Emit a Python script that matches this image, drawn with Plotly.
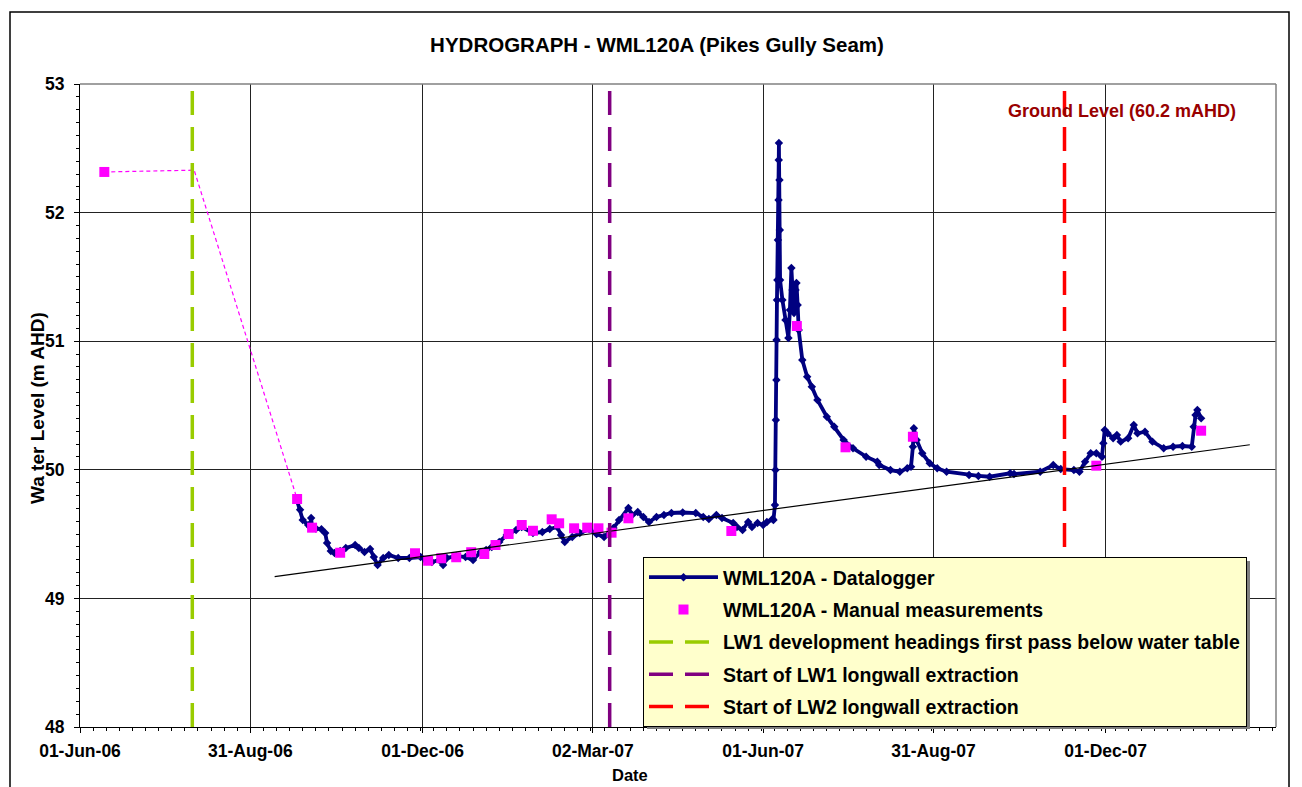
import plotly.graph_objects as go

# ---------------- data ----------------
logger_dates = [
    "2006-09-25", "2006-09-26 14:00", "2006-09-28", "2006-09-30 22:00", "2006-10-02", "2006-10-02 12:00",
    "2006-10-03", "2006-10-05", "2006-10-08", "2006-10-10", "2006-10-11", "2006-10-13", "2006-10-15",
    "2006-10-18", "2006-10-21", "2006-10-26", "2006-10-28", "2006-10-31", "2006-11-03", "2006-11-05",
    "2006-11-07", "2006-11-10", "2006-11-13", "2006-11-18", "2006-11-24", "2006-11-30", "2006-12-03",
    "2006-12-06", "2006-12-10", "2006-12-12", "2006-12-14", "2006-12-19", "2006-12-24", "2006-12-28",
    "2007-01-01", "2007-01-04", "2007-01-07", "2007-01-11", "2007-01-15", "2007-01-20", "2007-01-23",
    "2007-01-29", "2007-02-03", "2007-02-07", "2007-02-11", "2007-02-13", "2007-02-15", "2007-02-19",
    "2007-02-23", "2007-02-28", "2007-03-04", "2007-03-08", "2007-03-13", "2007-03-16", "2007-03-21",
    "2007-03-23", "2007-03-26", "2007-03-29", "2007-04-01", "2007-04-05", "2007-04-09", "2007-04-13",
    "2007-04-19", "2007-04-26", "2007-04-30", "2007-05-03", "2007-05-07", "2007-05-10", "2007-05-16",
    "2007-05-18", "2007-05-21", "2007-05-24", "2007-05-26", "2007-05-29", "2007-06-01", "2007-06-03",
    "2007-06-06",
    "2007-06-06 12:00", "2007-06-07 07:00", "2007-06-07 14:00", "2007-06-07 19:00", "2007-06-08 02:00",
    "2007-06-08 04:00", "2007-06-08 09:00", "2007-06-08 14:00", "2007-06-08 21:00", "2007-06-09 05:00",
    "2007-06-09 08:00", "2007-06-09 10:00", "2007-06-09 17:00", "2007-06-09 22:00", "2007-06-10 01:00",
    "2007-06-11 07:00", "2007-06-12 22:00", "2007-06-14 12:00", "2007-06-15 07:00", "2007-06-16 02:00",
    "2007-06-16 17:00", "2007-06-17 12:00", "2007-06-18 07:00", "2007-06-18 19:00", "2007-06-19 10:00",
    "2007-06-20", "2007-06-21 22:00",
    "2007-06-24 12:00", "2007-06-27", "2007-06-30", "2007-07-05", "2007-07-09", "2007-07-14",
    "2007-07-19", "2007-07-26", "2007-08-01", "2007-08-02", "2007-08-08", "2007-08-13", "2007-08-17",
    "2007-08-19", "2007-08-20", "2007-08-20 12:00", "2007-08-22", "2007-08-25", "2007-08-29",
    "2007-09-02", "2007-09-07", "2007-09-19", "2007-09-24", "2007-09-30", "2007-10-11", "2007-10-13",
    "2007-10-27", "2007-11-03", "2007-11-07", "2007-11-14", "2007-11-17", "2007-11-20", "2007-11-23",
    "2007-11-26", "2007-11-29", "2007-11-29 18:00", "2007-11-30 12:00", "2007-12-02", "2007-12-05",
    "2007-12-07", "2007-12-09", "2007-12-13", "2007-12-16", "2007-12-18", "2007-12-22", "2007-12-26",
    "2008-01-01", "2008-01-06", "2008-01-11", "2008-01-16", "2008-01-17", "2008-01-18", "2008-01-19",
    "2008-01-21",
]
logger_levels = [
    49.76, 49.69, 49.61, 49.57, 49.555, 49.625,
    49.547, 49.544, 49.537, 49.509, 49.431, 49.369, 49.353,
    49.369, 49.392, 49.415, 49.392, 49.361, 49.384, 49.322,
    49.260, 49.314, 49.338, 49.314, 49.314, 49.322, 49.291,
    49.283, 49.299, 49.260, 49.314, 49.330, 49.322, 49.299,
    49.361, 49.376, 49.400, 49.439, 49.493, 49.532, 49.555,
    49.509, 49.516, 49.540, 49.555, 49.493, 49.439, 49.478,
    49.509, 49.540, 49.501, 49.478, 49.547, 49.610, 49.703,
    49.649, 49.672, 49.633, 49.594, 49.633, 49.649, 49.664,
    49.668, 49.664, 49.633, 49.617, 49.649, 49.625, 49.586,
    49.555, 49.532, 49.594, 49.555, 49.586, 49.571, 49.594,
    49.617,
    49.610, 49.726, 49.998, 50.387, 50.698,
    51.009, 51.320, 51.476, 51.787, 52.098,
    52.409, 52.541, 52.253, 51.865, 51.476,
    51.320, 51.165, 51.025, 51.243, 51.569,
    51.398, 51.219, 51.398, 51.453, 51.282,
    51.087, 50.854,
    50.724, 50.646, 50.543, 50.413, 50.335, 50.232,
    50.167, 50.102, 50.063, 50.037, 49.998, 49.985, 50.012,
    50.024, 50.180, 50.323, 50.232, 50.128, 50.051,
    50.012, 49.985, 49.960, 49.952, 49.946, 49.973, 49.967,
    49.985, 50.037, 50.006, 49.998, 49.985, 50.063, 50.128,
    50.128, 50.102, 50.206, 50.309, 50.284, 50.245,
    50.271, 50.219, 50.245, 50.348, 50.284, 50.296, 50.219,
    50.167, 50.180, 50.185, 50.180, 50.335, 50.426, 50.465,
    50.400,
]

manual_dates = [
    "2006-06-14", "2006-09-25", "2006-10-03", "2006-10-18", "2006-11-27", "2006-12-04", "2006-12-11",
    "2006-12-19", "2006-12-27", "2007-01-03", "2007-01-09", "2007-01-16", "2007-01-23", "2007-01-29",
    "2007-02-08", "2007-02-12", "2007-02-20", "2007-02-27", "2007-03-05", "2007-03-12", "2007-03-21",
    "2007-05-15", "2007-06-19", "2007-07-15", "2007-08-20", "2007-11-26", "2008-01-21",
]
manual_levels = [
    52.316, 49.773, 49.55, 49.355, 49.351, 49.293, 49.312,
    49.320, 49.359, 49.345, 49.415, 49.501, 49.571, 49.526,
    49.615, 49.584, 49.545, 49.550, 49.545, 49.511, 49.623,
    49.524, 51.118, 50.175, 50.257, 50.032, 50.304,
]

assumed_dates = ["2006-06-14", "2006-08-01", "2006-09-25"]
assumed_levels = [52.316, 52.33, 49.773]

trend_dates = ["2006-09-13", "2008-02-16"]
trend_levels = [49.17, 50.195]

event_names = [
    "LW1 development headings first pass below water table",
    "Start of LW1 longwall extraction",
    "Start of LW2 longwall extraction",
]
event_dates = ["2006-07-31", "2007-03-11", "2007-11-09"]
event_colors = ["#99CC00", "#800080", "#FF0000"]

tick_dates = ["2006-06-01", "2006-08-31", "2006-12-01", "2007-03-02", "2007-06-01", "2007-08-31", "2007-12-01"]
tick_labels = ["01-Jun-06", "31-Aug-06", "01-Dec-06", "02-Mar-07", "01-Jun-07", "31-Aug-07", "01-Dec-07"]
y_range = [48, 53]
x_range = ["2006-06-01", "2008-03-01"]

FONT = "Arial, 'Liberation Sans', sans-serif"

# page body has an 8px margin; figure is laid out relative to that origin
W, H = 1294, 779
PL, PT, PW, PH = 72, 76, 1196, 643


def px(xr):  # reference-screen x -> paper x
    return (xr - 8 - PL) / PW


def py(yr):  # reference-screen y -> paper y
    return (PT + PH - (yr - 8)) / PH


fig = go.Figure()

fig.add_trace(go.Scatter(
    x=logger_dates, y=logger_levels, mode="lines+markers",
    name="WML120A - Datalogger", legendgroup="a",
    line=dict(color="#000080", width=3.8),
    marker=dict(symbol="diamond", size=6.5, color="#000080"),
))
fig.add_trace(go.Scatter(
    x=manual_dates, y=manual_levels, mode="markers",
    name="WML120A - Manual measurements", legendgroup="b",
    marker=dict(symbol="square", size=10, color="#FF00FF"),
))
fig.add_trace(go.Scatter(
    x=assumed_dates, y=assumed_levels, mode="lines", showlegend=False,
    line=dict(color="#FF00FF", width=1.2, dash="4px,3px"), hoverinfo="skip",
))
fig.add_trace(go.Scatter(
    x=trend_dates, y=trend_levels, mode="lines", showlegend=False,
    line=dict(color="black", width=1.2), hoverinfo="skip",
))
for i, (nm, d, c) in enumerate(zip(event_names, event_dates, event_colors)):
    fig.add_trace(go.Scatter(
        x=[d, d], y=y_range, mode="lines", name=nm, legendgroup="e%d" % i,
        line=dict(color=c, width=3.5, dash="24px,12px"),
    ))

axis_font = dict(family=FONT, size=17.5, color="black", weight="bold")

fig.update_layout(
    width=W, height=H,
    margin=dict(l=PL, r=W - PL - PW, t=PT, b=H - PT - PH, autoexpand=False),
    paper_bgcolor="white", plot_bgcolor="white",
    font=dict(family=FONT, color="black"),
    title=dict(text="HYDROGRAPH - WML120A (Pikes Gully Seam)", x=(657 - 8) / W, xref="container",
               y=1 - (45 - 8) / H, yref="container", xanchor="center", yanchor="middle",
               font=dict(family=FONT, size=20.5, color="black", weight="bold")),
    xaxis=dict(
        type="date", range=x_range, tickvals=tick_dates, ticktext=tick_labels,
        showgrid=True, gridcolor="#222222", gridwidth=1,
        showline=True, linecolor="black", linewidth=1,
        ticks="outside", ticklen=5, tickcolor="black", tickfont=axis_font,
        ticklabelstandoff=3,
        minor=dict(ticks="outside", ticklen=3, tickcolor="black",
                   dtick=7 * 86400000, tick0="2006-06-01", showgrid=False),
        zeroline=False,
    ),
    yaxis=dict(
        range=y_range, dtick=1, tick0=48,
        showgrid=True, gridcolor="#222222", gridwidth=1,
        showline=True, linecolor="black", linewidth=1,
        ticks="outside", ticklen=5, tickcolor="black", tickfont=axis_font,
        ticklabelstandoff=6,
        minor=dict(ticks="outside", ticklen=3, tickcolor="black", dtick=0.1, showgrid=False),
        zeroline=False,
    ),
    legend=dict(
        x=px(643), y=py(557), xanchor="left", yanchor="top",
        bgcolor="#FFFFCC", bordercolor="black", borderwidth=1,
        font=dict(family=FONT, size=19.5, color="black", weight="bold"),
        traceorder="grouped", tracegroupgap=4, itemwidth=69,
    ),
    showlegend=True,
)

fig.add_annotation(text="Wa ter Level (m AHD)", xref="paper", yref="paper",
                   x=px(37), y=py(408), textangle=-90, showarrow=False,
                   xanchor="center", yanchor="middle",
                   font=dict(family=FONT, size=19, color="black", weight="bold"))
fig.add_annotation(text="Date", xref="paper", yref="paper",
                   x=px(630), y=py(775), showarrow=False,
                   xanchor="center", yanchor="middle",
                   font=dict(family=FONT, size=16.5, color="black", weight="bold"))
fig.add_annotation(text="Ground Level (60.2 mAHD)", xref="paper", yref="paper",
                   x=px(1122), y=py(111), showarrow=False,
                   xanchor="center", yanchor="middle",
                   font=dict(family=FONT, size=18, color="#990000", weight="bold"))

# plot-area border (grey top/right) and outer chart frame
fig.add_shape(type="line", xref="paper", yref="paper", x0=0, x1=1, y0=1, y1=1,
              line=dict(color="#808080", width=1.5), layer="above")
fig.add_shape(type="line", xref="paper", yref="paper", x0=1, x1=1, y0=0, y1=1,
              line=dict(color="#808080", width=1.5), layer="above")
fig.add_shape(type="rect", xref="paper", yref="paper",
              x0=px(10), x1=px(1289), y0=py(800), y1=py(12),
              line=dict(color="black", width=1.5), layer="below")
# legend shadow
fig.add_shape(type="rect", xref="paper", yref="paper",
              x0=px(647), x1=px(1250), y0=py(729), y1=py(561),
              fillcolor="#7f7f7f", line=dict(width=0), layer="above")

fig.write_html("out.html")
